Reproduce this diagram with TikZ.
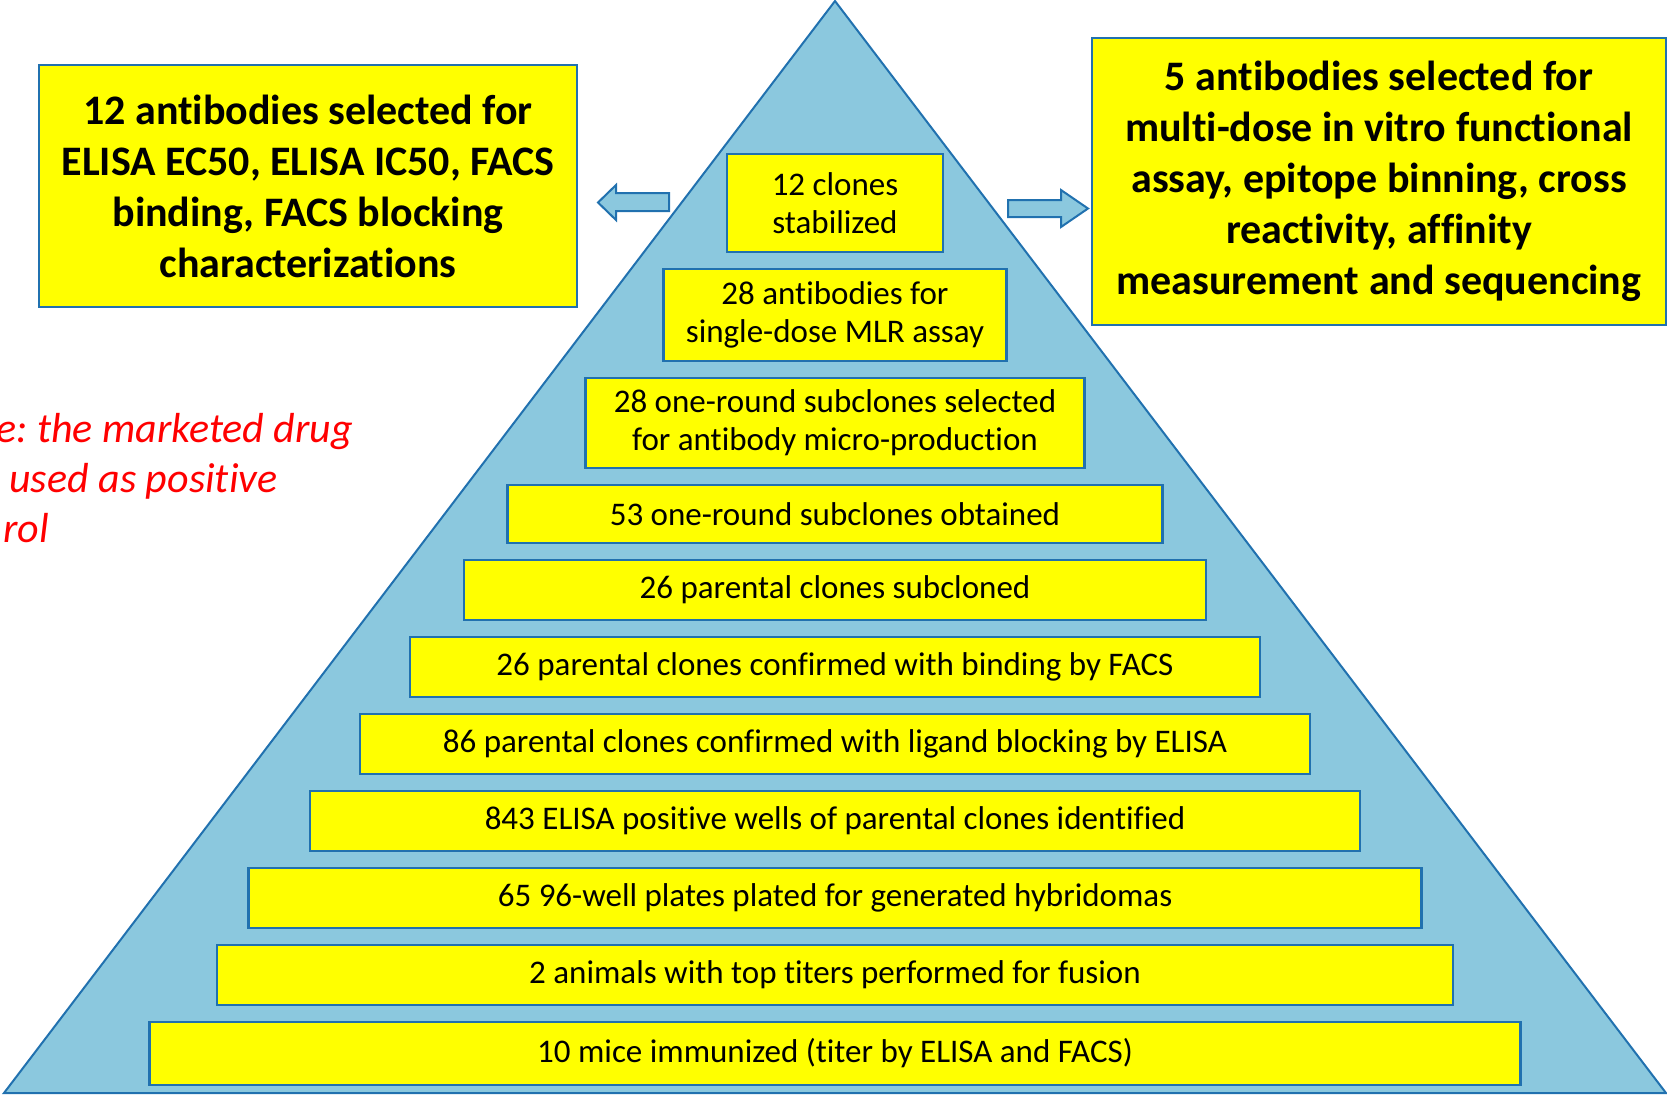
\documentclass[tikz,border=0pt]{standalone}
\usepackage{fontspec}
\setmainfont{Carlito}[Ligatures={NoCommon}]
\usepackage{xcolor}
\usetikzlibrary{positioning}
\definecolor{pyrblue}{RGB}{139,200,222}
\definecolor{edgeblue}{RGB}{33,113,175}
\definecolor{boxyellow}{RGB}{255,255,0}
\frenchspacing

\begin{document}
\begin{tikzpicture}[
    x=0.5pt, y=-0.5pt,
    node distance=8.5pt,
    stage/.style={
        rectangle, draw=edgeblue, fill=boxyellow, line width=1.2pt,
        minimum width=#1, minimum height=30pt, inner sep=0pt, outer sep=0pt,
        align=center, font=\fontsize{16.5}{19}\selectfont
    },
    stage/.default=300pt,
    summary/.style={
        rectangle, draw=edgeblue, fill=boxyellow, line width=1.2pt,
        inner sep=0pt, outer sep=0pt, align=center,
        font=\bfseries\fontsize{21}{25.5}\selectfont
    },
    note/.style={anchor=base west, inner sep=0pt, text=red,
        font=\itshape\fontsize{21}{25}\selectfont},
    blockarr/.style={draw=edgeblue, fill=pyrblue, line width=1pt}
]
    \useasboundingbox (0,0) rectangle (1667,1094);

    %% --- Pyramid ---
    \coordinate (apex) at (835,1);
    \coordinate (baseL) at (4,1093);
    \coordinate (baseR) at (1666,1093);
    \draw[draw=edgeblue, fill=pyrblue, line width=1pt] (apex) -- (baseL) -- (baseR) -- cycle;

    %% --- Stages, top to bottom ---
    \node[stage=108pt, minimum height=49pt] (stabilized) at (835,203) {12 clones\\stabilized};
    \node[stage=171.5pt, minimum height=46pt, below=of stabilized] (mlr) {28 antibodies for\\single-dose MLR assay};
    \node[stage=249.5pt, minimum height=45pt, below=of mlr] (microprod) {28 one-round subclones selected\\for antibody micro-production};
    \node[stage=327.5pt, minimum height=29pt, below=of microprod] (subobtained) {53 one-round subclones obtained};
    \node[stage=371pt, below=of subobtained] (subcloned) {26 parental clones subcloned};
    \node[stage=425pt, below=of subcloned] (facs) {26 parental clones confirmed with binding by FACS};
    \node[stage=475pt, below=of facs] (blocking) {86 parental clones confirmed with ligand blocking by ELISA};
    \node[stage=525pt, below=of blocking] (elisapos) {843 ELISA positive wells of parental clones identified};
    \node[stage=586.5pt, below=of elisapos] (plates) {65 96-well plates plated for generated hybridomas};
    \node[stage=618pt, below=of plates] (fusion) {2 animals with top titers performed for fusion};
    \node[stage=685.5pt, minimum height=31.5pt, below=of fusion] (immunized) {10 mice immunized (titer by ELISA and FACS)};

    %% --- Side summaries ---
    \node[summary, minimum width=269pt, minimum height=121pt] (leftsum) at (308,186)
        {12 antibodies selected for\\ELISA EC50, ELISA IC50, FACS\\binding, FACS blocking\\characterizations};
    \node[summary, minimum width=287pt, minimum height=143.5pt] (rightsum) at (1379,181.5)
        {5 antibodies selected for\\multi-dose in vitro functional\\assay, epitope binning, cross\\reactivity, affinity\\measurement and sequencing};

    %% --- Block arrows ---
    \draw[blockarr] (669,193) -- (616,193) -- (616,185) -- (598,202.5) -- (616,220) -- (616,211) -- (669,211) -- cycle;
    \draw[blockarr] (1008,200) -- (1061,200) -- (1061,190) -- (1088,208.5) -- (1061,227) -- (1061,217) -- (1008,217) -- cycle;

    %% --- Note ---
    \node[note] (note1) at (-4,442) {e: the marketed drug};
    \node[note] (note2) at (9,492) {used as positive};
    \node[note] (note3) at (3,542) {rol};
\end{tikzpicture}
\end{document}
